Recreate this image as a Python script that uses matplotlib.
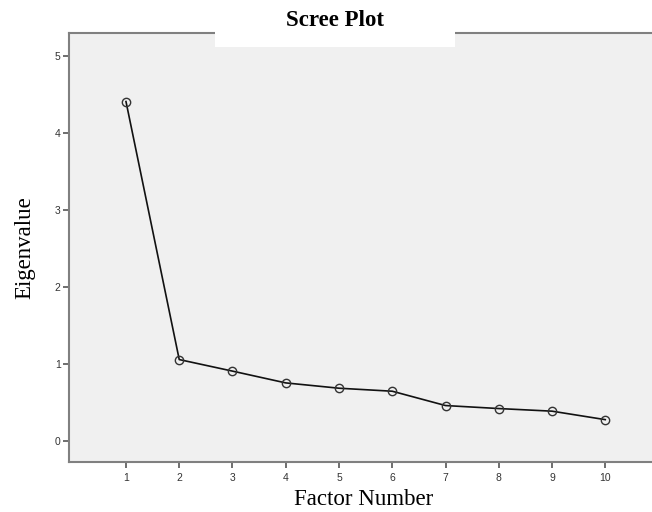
import matplotlib
matplotlib.use("Agg")
import matplotlib.pyplot as plt
from matplotlib.patches import Rectangle

# Eigenvalues
factors = [1, 2, 3, 4, 5, 6, 7, 8, 9, 10]
eigenvalues = [4.41, 1.06, 0.91, 0.757, 0.688, 0.649, 0.463, 0.424, 0.39, 0.28]
y_ticks = [0, 1, 2, 3, 4, 5]

fig = plt.figure(figsize=(6.52, 5.12), dpi=100)
ax = fig.add_axes([69 / 652, 50 / 512, 1.0 - 69 / 652 + 0.01, (462 - 33) / 512])
ax.set_facecolor("#f0f0f0")

ax.plot(factors, eigenvalues, color="#111111", linewidth=1.2,
        marker="o", markersize=6, markerfacecolor="none",
        markeredgecolor="#333333", markeredgewidth=1.0)

ax.set_xlim(-0.07, 11.0)
ax.set_ylim(-0.27, 5.30)
ax.set_xticks(factors)
ax.set_yticks(y_ticks)

ax.tick_params(axis="both", direction="out", length=4, width=1.2, color="#555555",
               pad=2, labelsize=7.5, labelcolor="#333333")
ax.tick_params(axis="x", pad=4)
for lab in ax.get_xticklabels() + ax.get_yticklabels():
    lab.set_family("Liberation Sans")

for side in ["left", "top", "bottom"]:
    ax.spines[side].set_color("#808080")
    ax.spines[side].set_linewidth(1.5)
ax.spines["right"].set_visible(False)

ax.set_xlabel("Factor Number", family="Liberation Serif", fontsize=16.5, labelpad=4)
ax.set_ylabel("Eigenvalue", family="Liberation Serif", fontsize=16.5, labelpad=14)

# white box behind the title, covering the top spine
fig.patches.append(Rectangle((215 / 652, 1 - 47 / 512), 240 / 652, 47 / 512,
                             transform=fig.transFigure, facecolor="white",
                             edgecolor="none", zorder=5))
fig.text(335 / 652, 1 - 21 / 512, "Scree Plot", family="Liberation Serif",
         fontweight="bold", fontsize=16.5, ha="center", va="center", zorder=6)

fig.savefig("out.png", dpi=100)
